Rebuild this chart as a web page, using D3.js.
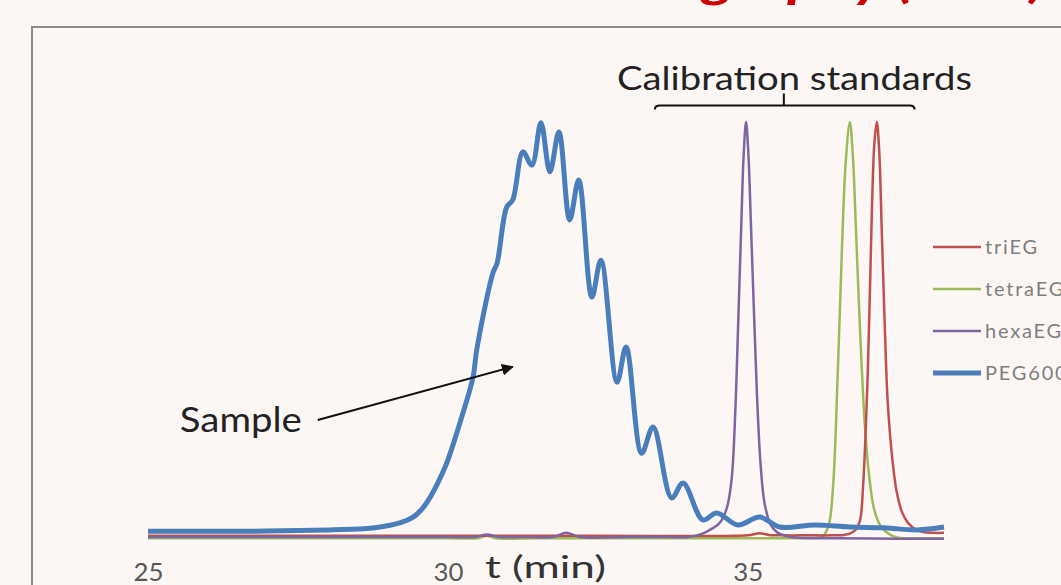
<!DOCTYPE html>
<html>
<head>
<meta charset="utf-8">
<script src="https://cdn.jsdelivr.net/npm/d3@7"></script>
<style>
  body { margin: 0; background: #fcf7f4; }
  svg { display: block; }
</style>
</head>
<body>
<script>
// chart size
var w = 1061;
var h = 585;

// x ticks
var tickValues = [25, 30, 35];

// legend names
var seriesNames = ["triEG", "tetraEG", "hexaEG", "PEG600"];

// PEG600 (sample)
var pegTime = [25.00, 26.70, 28.03, 28.60, 28.87, 29.15, 29.42, 29.57, 29.70, 29.84, 29.98, 30.20, 30.42, 30.48,
               30.75, 30.82, 30.98, 31.08, 31.25, 31.40, 31.55, 31.70, 31.85, 32.03, 32.18, 32.40, 32.55,
               32.82, 32.97, 33.23, 33.42, 33.73, 33.92, 34.25, 34.48, 34.83, 35.20, 35.53, 36.12, 36.70,
               37.28, 37.82, 38.27];
var pegValue = [1.4, 1.4, 1.7, 2.0, 2.4, 3.2, 4.8, 6.8, 9.5, 13.3, 17.8, 27.5, 38.6, 45.1,
                63.6, 66.0, 79.5, 81.2, 92.8, 89.6, 99.8, 88.0, 97.6, 76.4, 86.0, 57.8, 66.7,
                37.3, 45.8, 20.2, 26.5, 9.4, 13.0, 4.1, 5.8, 2.9, 4.8, 2.4, 2.9, 2.4,
                2.2, 1.7, 2.4];

// hexaEG
var hexaTime = [25.00, 27.50, 30.00, 30.45, 30.65, 30.85, 31.30, 31.75, 31.97, 32.20, 33.00, 33.60, 34.00, 34.15,
                34.30, 34.53, 34.65, 34.73, 34.79, 34.84, 34.89, 34.93, 34.97, 35.01, 35.05, 35.10, 35.15,
                35.21, 35.28, 35.38, 35.50, 35.65, 35.85, 36.50, 37.50, 38.27];
var hexaValue = [0, 0, 0, 0, 0.6, 0, 0, 0, 1.0, 0, 0, 0, 0, 0.4,
                 1.2, 3.4, 7, 14, 30, 52, 75, 92, 100, 92, 76, 55, 35,
                 18, 8, 3, 1, 0.2, -0.2, -0.3, -0.4, -0.4];

// tetraEG
var tetraTime = [25.00, 27.50, 30.00, 30.50, 30.65, 30.80, 31.50, 32.50, 33.50, 34.50, 35.50, 35.90, 36.10,
                 36.25, 36.35, 36.42, 36.50, 36.57, 36.63, 36.70, 36.75, 36.80, 36.87, 36.95, 37.02, 37.10,
                 37.20, 37.32, 37.50, 37.70, 38.00, 38.27];
var tetraValue = [-0.3, -0.3, -0.3, -0.3, 0.3, -0.3, -0.3, -0.3, -0.3, -0.3, -0.3, -0.3, -0.2,
                  0.2, 3, 12, 40, 70, 90, 100, 92, 75, 50, 27, 15, 7,
                  3, 1, -0.2, -0.3, -0.3, -0.3];

// triEG
var triTime = [25.00, 27.50, 30.00, 32.50, 34.80, 35.05, 35.20, 35.35, 35.60, 36.00, 36.40, 36.60, 36.70,
               36.80, 36.87, 36.92, 37.00, 37.07, 37.11, 37.15, 37.19, 37.23, 37.28, 37.33, 37.40, 37.48,
               37.57, 37.67, 37.80, 37.92, 38.10, 38.27];
var triValue = [0.3, 0.3, 0.3, 0.3, 0.3, 0.5, 0.9, 0.5, 0.4, 0.4, 0.4, 0.5, 0.8,
                1.8, 4, 12, 40, 80, 95, 100, 93, 75, 52, 33, 20, 11,
                6, 3.4, 1.8, 1.2, 1.0, 1.0];

var colors = ["#c0504d", "#9bbb59", "#8064a2", "#4a7ebb"];
var font = "Lato, 'Open Sans', sans-serif";

var svg = d3.select("body")
            .append("svg")
            .attr("width", w)
            .attr("height", h);

/*** Title (only descenders show at the top edge) ***/
svg.append("g")
   .attr("transform", "translate(1046,-3) scale(1.3,1)")
   .append("text")
   .attr("text-anchor", "end")
   .style("font-family", font)
   .style("font-size", "48px")
   .style("font-weight", "bold")
   .style("font-style", "italic")
   .style("fill", "#cc0000")
   .text("Gel Permeation Chromatography (GPC)");

/*** Frame ***/
svg.append("path")
   .attr("d", "M32," + h + "V27H" + w)
   .attr("fill", "none")
   .attr("stroke", "#8c8c8c")
   .attr("stroke-width", 2);

/*** Scales ***/
var xScale = d3.scaleLinear()
               .domain([25, 38.27])
               .range([148, 944]);
var yScale = d3.scaleLinear()
               .domain([0, 100])
               .range([537, 122]);

/*** Axis (labels only) ***/
var xAxis = d3.axisBottom(xScale)
              .tickValues(tickValues)
              .tickSize(0)
              .tickPadding(0);
var gx = svg.append("g")
            .attr("transform", "translate(0,581)")
            .call(xAxis);
gx.select(".domain").remove();
gx.selectAll("text")
  .attr("dy", 0)
  .attr("textLength", 30)
  .attr("lengthAdjust", "spacingAndGlyphs")
  .style("font-family", font)
  .style("font-size", "25px")
  .style("fill", "#595959");

svg.append("text")
   .attr("x", 485)
   .attr("y", 578)
   .attr("textLength", 121)
   .attr("lengthAdjust", "spacingAndGlyphs")
   .style("font-family", font)
   .style("font-size", "31px")
   .style("fill", "#333")
   .text("t (min)");

/*** Lines ***/
var line = d3.line()
             .x(function(d) { return xScale(d[0]); })
             .y(function(d) { return yScale(d[1]); })
             .curve(d3.curveCatmullRom.alpha(0.5));

var series = [
  { name: seriesNames[1], t: tetraTime, v: tetraValue, c: colors[1], sw: 2.5 },
  { name: seriesNames[0], t: triTime, v: triValue, c: colors[0], sw: 2.5 },
  { name: seriesNames[2], t: hexaTime, v: hexaValue, c: colors[2], sw: 2.5 },
  { name: seriesNames[3], t: pegTime, v: pegValue, c: colors[3], sw: 5 }
];

series.forEach(function(s) {
  svg.append("path")
     .datum(d3.zip(s.t, s.v))
     .attr("d", line)
     .attr("fill", "none")
     .attr("stroke", s.c)
     .attr("stroke-width", s.sw)
     .attr("stroke-linejoin", "round");
});

/*** Legend ***/
var legend = svg.selectAll(".legend")
                .data(seriesNames)
                .enter()
                .append("g")
                .attr("class", "legend")
                .attr("transform", function(d, i) { return "translate(933," + (247 + i * 42) + ")"; });
legend.append("line")
      .attr("x1", 0).attr("x2", 48)
      .attr("stroke", function(d, i) { return colors[i]; })
      .attr("stroke-width", function(d, i) { return i == 3 ? 5 : 2.5; });
legend.append("text")
      .attr("x", 52)
      .attr("dy", "0.36em")
      .style("font-family", font)
      .style("font-size", "20px")
      .style("letter-spacing", "1.8px")
      .style("fill", "#7f7f7f")
      .text(function(d) { return d; });

/*** Annotations ***/
svg.append("defs").append("marker")
   .attr("id", "arrow")
   .attr("viewBox", "0 0 10 10")
   .attr("refX", 9).attr("refY", 5)
   .attr("markerWidth", 6).attr("markerHeight", 6)
   .attr("orient", "auto")
   .append("path")
   .attr("d", "M0,0L10,5L0,10z")
   .attr("fill", "#111");

svg.append("line")
   .attr("x1", xScale(27.83)).attr("y1", yScale(28.2))
   .attr("x2", xScale(31.08)).attr("y2", yScale(41))
   .attr("stroke", "#111")
   .attr("stroke-width", 2)
   .attr("marker-end", "url(#arrow)");

svg.append("text")
   .attr("x", xScale(25.53))
   .attr("y", yScale(25.3))
   .attr("textLength", 122)
   .attr("lengthAdjust", "spacingAndGlyphs")
   .style("font-family", font)
   .style("font-size", "35px")
   .style("fill", "#222")
   .text("Sample");

// bracket over the standards
var bx0 = xScale(33.45), bx1 = xScale(37.78), bxm = xScale(35.6), by = yScale(104);
svg.append("path")
   .attr("d", "M" + bx0 + "," + (by + 4) + "Q" + bx0 + "," + by + " " + (bx0 + 5) + "," + by +
              "H" + (bx1 - 5) + "Q" + bx1 + "," + by + " " + bx1 + "," + (by + 4) +
              "M" + bxm + "," + by + "V" + (by - 12))
   .attr("fill", "none")
   .attr("stroke", "#111")
   .attr("stroke-width", 2);

svg.append("text")
   .attr("x", 617)
   .attr("y", yScale(107.7))
   .attr("textLength", 355)
   .attr("lengthAdjust", "spacingAndGlyphs")
   .style("font-family", font)
   .style("font-size", "33px")
   .style("fill", "#222")
   .text("Calibration standards");
</script>
</body>
</html>
